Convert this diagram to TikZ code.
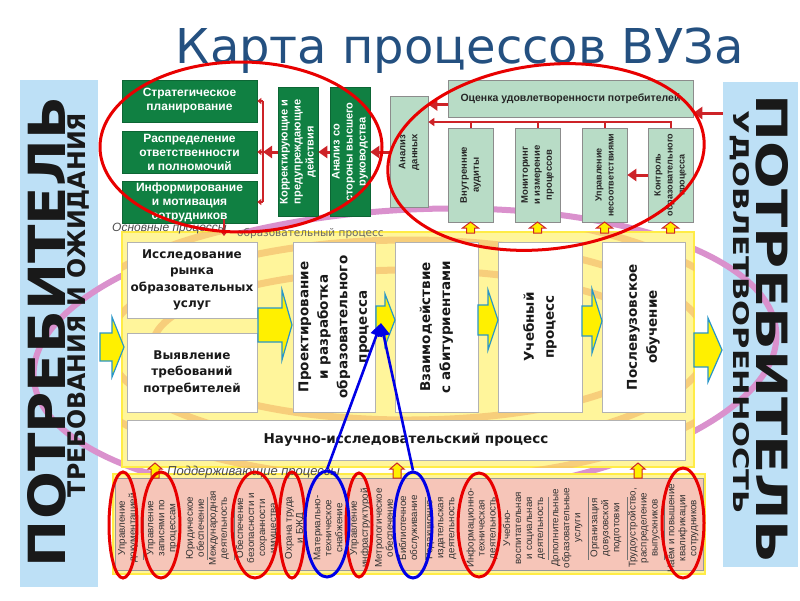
\documentclass[tikz,border=0pt]{standalone}
\usepackage{graphicx}
\usepackage{fontspec}
\setmainfont{Liberation Sans}[BoldFont={Liberation Sans Bold},ItalicFont={Liberation Sans Italic}]
\newfontfamily\dvs{DejaVu Sans}
\usetikzlibrary{shapes.geometric,arrows.meta}
\definecolor{barblue}{RGB}{189,224,246}
\definecolor{ttl}{RGB}{36,80,128}
\definecolor{gr}{RGB}{16,128,66}
\definecolor{lg}{RGB}{184,220,198}
\definecolor{yel1}{RGB}{255,245,155}
\definecolor{yel2}{RGB}{255,236,70}
\definecolor{yarrf}{RGB}{255,240,0}
\definecolor{arrbl}{RGB}{40,150,200}
\definecolor{salm}{RGB}{246,197,184}
\definecolor{rarr}{RGB}{205,35,40}
\definecolor{redc}{RGB}{232,0,0}
\definecolor{bluec}{RGB}{0,0,230}
\definecolor{pinkr}{RGB}{218,145,205}
\definecolor{orng}{RGB}{245,190,110}
\newcommand{\myharrow}[6]{%
  \path[yarr] (#1,#3-#4) -- (#2-#6,#3-#4) -- (#2-#6,#3-#5) -- (#2,#3) -- (#2-#6,#3+#5) -- (#2-#6,#3+#4) -- (#1,#3+#4) -- cycle;}
\newcommand{\myuparrow}[5]{%
  \path[uparr] (#1-#4,#3) -- (#1-#4,#2+6) -- (#1-#5,#2+6) -- (#1,#2) -- (#1+#5,#2+6) -- (#1+#4,#2+6) -- (#1+#4,#3) -- cycle;}
\tikzset{
  gbox/.style={rectangle, fill=gr, draw=gr!80!black, line width=0.6pt, text=white,
    font=\bfseries\fontsize{12}{14}\selectfont, align=center, inner sep=0pt},
  lgbox/.style={rectangle, fill=lg, draw=black!45, line width=0.6pt, text=black!85,
    font=\bfseries\fontsize{9.5}{12}\selectfont, align=center, inner sep=0pt},
  wbox/.style={rectangle, fill=white, draw=black!30, line width=0.5pt, text=black!90,
    align=center, inner sep=0pt},
  rell/.style={ellipse, draw=redc, line width=3pt, inner sep=0pt},
  bell/.style={ellipse, draw=bluec, line width=3pt, inner sep=0pt},
  redarr/.style={draw=rarr, line width=3pt, -{Triangle[length=9pt,width=12pt]}},
  rline/.style={draw=rarr, line width=2pt},
  rthin/.style={draw=rarr, line width=2pt, -{Triangle[length=6pt,width=8pt]}},
  rsmall/.style={draw=rarr, line width=1.5pt, -{Triangle[length=4pt,width=6pt]}},
  bluearr/.style={draw=bluec, line width=2.6pt, -{Triangle[length=13pt,width=12pt]}},
  yarr/.style={fill=yarrf, draw=arrbl, line width=1.2pt, line join=miter},
  uparr/.style={fill=yarrf, draw=rarr, line width=1pt, line join=miter},
  orarc/.style={draw=orng, line width=7pt, opacity=0.7},
  supitem/.style={rotate=90, align=center, font=\fontsize{9.8}{11}\selectfont, inner sep=0pt, text=black!80},
  sepl/.style={draw=black!55, line width=0.6pt},
  bartext/.style={inner sep=0pt, text=black!90, font=\dvs\bfseries}
}
\begin{document}
\begin{tikzpicture}[x=1pt,y=-1pt]
\useasboundingbox (0,0) rectangle (800,600);
\fill[white] (0,0) rectangle (800,600);

% consumer bars
\node[rectangle, fill=barblue, inner sep=0pt, minimum width=78pt, minimum height=507pt] (lbar) at (59,333.5) {};
\node[rectangle, fill=barblue, inner sep=0pt, minimum width=75pt, minimum height=485pt] (rbar) at (760.5,324.5) {};

% pink ring
\node[ellipse, draw=pinkr, line width=6pt, minimum width=744pt, minimum height=290pt, inner sep=0pt, rotate=3.5] (ring) at (405,355) {};

% title
\node[anchor=base, font=\dvs\fontsize{48}{50}\selectfont, text=ttl, inner sep=0pt] (title) at (460,63) {Карта процессов ВУЗа};

% main processes area
\node[rectangle, fill=yel1, draw=yel2, line width=1.5pt, minimum width=572pt, minimum height=235pt, inner sep=0pt] (main) at (408,349.5) {};
\begin{scope}
  \clip (122,232) rectangle (694,467);
  \draw[orarc] (408,345) ellipse [x radius=300, y radius=105];
  \draw[orarc] (408,345) ellipse [x radius=255, y radius=75];
  \draw[orarc] (408,345) ellipse [x radius=350, y radius=135];
\end{scope}

% support processes area
\node[rectangle, fill=yel1, draw=yel2, line width=1.5pt, minimum width=592pt, minimum height=100pt, inner sep=0pt] (supf) at (409,524) {};
\node[rectangle, fill=salm, draw=black!40, line width=0.6pt, minimum width=588pt, minimum height=92pt, inner sep=0pt] (sup) at (409,524) {};

% green management boxes
\node[gbox, minimum width=135pt, minimum height=42pt] (gb1) at (189.5,101) {Стратегическое\\планирование};
\node[gbox, minimum width=135pt, minimum height=42pt] (gb2) at (189.5,152) {Распределение\\ответственности\\и полномочий};
\node[gbox, minimum width=135pt, minimum height=42pt] (gb3) at (189.5,202) {Информирование\\и мотивация\\сотрудников};
\node[gbox, rotate=90, minimum width=129pt, minimum height=40pt, font=\bfseries\fontsize{11}{13}\selectfont] (gk) at (298,152) {Корректирующие и\\предупреждающие\\действия};
\node[gbox, rotate=90, minimum width=129pt, minimum height=40pt, font=\bfseries\fontsize{11}{13}\selectfont] (ga) at (350,152) {Анализ со\\стороны высшего\\руководства};

% measurement boxes
\node[lgbox, rotate=90, minimum width=111pt, minimum height=38pt] (ad) at (409,152) {Анализ\\данных};
\node[lgbox, minimum width=245pt, minimum height=37pt, font=\bfseries\fontsize{10.5}{12}\selectfont] (oc) at (570.5,98.5) {Оценка удовлетворенности потребителей};
\node[lgbox, rotate=90, minimum width=94pt, minimum height=45pt] (ia) at (470.5,175) {Внутренние\\аудиты};
\node[lgbox, rotate=90, minimum width=94pt, minimum height=45pt] (mi) at (537.5,175) {Мониторинг\\и измерение\\процессов};
\node[lgbox, rotate=90, minimum width=94pt, minimum height=45pt, font=\bfseries\fontsize{9}{12}\selectfont] (un) at (604.5,175) {Управление\\несоответствиями};
\node[lgbox, rotate=90, minimum width=94pt, minimum height=45pt, font=\bfseries\fontsize{9}{12}\selectfont] (ko) at (670.5,175) {Контроль\\образовательного\\процесса};

% red connectors (top)
\coordinate (br1) at (263,101);
\coordinate (br2) at (263,152);
\coordinate (br3) at (263,202);
\draw[rline] (br1) -- (br3);
\draw[rsmall] (br1) -- (gb1.east);
\draw[rsmall] (br2) -- (gb2.east);
\draw[rsmall] (br3) -- (gb3.east);
\draw[redarr] (gk.north) -- (br2);
\draw[redarr] (ga.north) -- (gk.south);
\draw[redarr] (ad.north) -- (ga.south);
\draw[redarr] ([yshift=-6pt]oc.west) -- ([yshift=-6pt]oc.west -| ad.south);
\draw[redarr] (rbar.west |- 0,113) -- (oc.east |- 0,113);
\draw[rthin] (ko.east) |- (ad.south |- 0,122);
\draw[rline] (ia.east) -- ++(0,-6);
\draw[rline] (mi.east) -- ++(0,-6);
\draw[rline] (un.east) -- ++(0,-6);
\draw[redarr] (ko.north) -- (un.south);
\draw[rsmall] (224,219) -- (224,236);

% small up arrows
\myuparrow{470.5}{222}{233}{4}{8}
\myuparrow{537.5}{222}{233}{4}{8}
\myuparrow{604.5}{222}{233}{4}{8}
\myuparrow{670.5}{222}{233}{4}{8}
\myuparrow{155}{463}{478}{4}{7}
\myuparrow{397}{463}{478}{4}{7}
\myuparrow{638}{463}{478}{4}{7}

% main process boxes
\node[wbox, font=\dvs\bfseries\fontsize{12}{16.5}\selectfont, minimum width=130pt, minimum height=76pt] (ir) at (192,280) {Исследование\\рынка\\образовательных\\услуг};
\node[wbox, font=\dvs\bfseries\fontsize{12}{16.5}\selectfont, minimum width=130pt, minimum height=79pt] (vt) at (192,372.5) {Выявление\\требований\\потребителей};
\node[wbox, rotate=90, font=\dvs\bfseries\fontsize{13.5}{19.5}\selectfont, minimum width=170pt, minimum height=82pt] (pr) at (334,327) {Проектирование\\и разработка\\образовательного\\процесса};
\node[wbox, rotate=90, font=\dvs\bfseries\fontsize{13.5}{20}\selectfont, minimum width=170pt, minimum height=83pt] (vz) at (436.5,327) {Взаимодействие\\с абитуриентами};
\node[wbox, rotate=90, font=\dvs\bfseries\fontsize{13.5}{20}\selectfont, minimum width=170pt, minimum height=84pt] (up) at (540,327) {Учебный\\процесс};
\node[wbox, rotate=90, font=\dvs\bfseries\fontsize{13.5}{20}\selectfont, minimum width=170pt, minimum height=83pt] (po) at (643.5,327) {Послевузовское\\обучение};
\node[wbox, font=\dvs\bfseries\fontsize{13.5}{16}\selectfont, minimum width=558pt, minimum height=40pt] (ni) at (406,440) {Научно-исследовательский процесс};

% yellow block arrows
\myharrow{100}{124}{347}{14}{30}{12}
\myharrow{258}{292}{325}{17}{35}{10}
\myharrow{376}{395}{320}{14}{26}{10}
\myharrow{478}{498}{320}{15}{30}{10}
\myharrow{582}{602}{321}{15}{32}{10}
\myharrow{694}{722}{350}{17}{32}{14}

% labels
\node[anchor=base west, font=\itshape\fontsize{12}{12}\selectfont, text=black!70, inner sep=0pt] (lbl1) at (112,231) {Основные процессы};
\node[anchor=base west, font=\dvs\fontsize{10.5}{11}\selectfont, text=black!60, inner sep=0pt] (lbl2) at (237,236) {образовательный процесс};
\node[anchor=base west, font=\itshape\fontsize{13}{13}\selectfont, text=black!70, inner sep=0pt] (lbl3) at (167,475) {Поддерживающие процессы};

% support items
\node[supitem] (s1) at (128,528) {Управление\\документацией};
\node[supitem] (s2) at (162,528) {Управление\\записями по\\процессам};
\node[supitem] (s3) at (195,528) {Юридическое\\обеспечение};
\node[supitem] (s4) at (219,528) {Международная\\деятельность};
\node[supitem] (s5) at (257,528) {Обеспечение\\безопасности и\\сохранности\\имущества};
\node[supitem] (s6) at (295,528) {Охрана труда\\и БЖД};
\node[supitem] (s7) at (328,528) {Материально-\\техническое\\снабжение};
\node[supitem] (s8) at (360,528) {Управление\\инфраструктурой};
\node[supitem] (s9) at (384,528) {Метрологическое\\обеспечение};
\node[supitem] (s10) at (409,528) {Библиотечное\\обслуживание};
\node[supitem] (s11) at (441,528) {Редакционно-\\издательская\\деятельность};
\node[supitem] (s12) at (482,528) {Информационно-\\техническая\\деятельность};
\node[supitem] (s13) at (524,528) {Учебно-\\воспитательная\\и социальная\\деятельность};
\node[supitem] (s14) at (567,528) {Дополнительные\\образовательные\\услуги};
\node[supitem] (s15) at (606,528) {Организация\\довузовской\\подготовки};
\node[supitem] (s16) at (644,528) {Трудоустройство,\\распределение\\выпускников};
\node[supitem] (s17) at (683,528) {Наём и повышение\\квалификации\\сотрудников};
\foreach \xx in {143,207,234,425,548,588,627,664}
  \draw[sepl] (\xx,497) -- (\xx,560);

% consumer texts
\node[bartext, rotate=90] (t1) at (47,332) {\resizebox{470pt}{38pt}{ПОТРЕБИТЕЛЬ}};
\node[bartext, rotate=90] (t2) at (78,305) {\resizebox{384pt}{18pt}{ТРЕБОВАНИЯ И ОЖИДАНИЯ}};
\node[bartext, rotate=-90] (t3) at (772,329) {\resizebox{468pt}{32pt}{ПОТРЕБИТЕЛЬ}};
\node[bartext, rotate=-90] (t4) at (740,312) {\resizebox{403pt}{16pt}{УДОВЛЕТВОРЕННОСТЬ}};

% red highlight ellipses
\node[rell, minimum width=282pt, minimum height=170pt] (re8) at (241,147) {};
\node[rell, minimum width=318pt, minimum height=184pt, rotate=7] (re9) at (546,157) {};
\node[rell, minimum width=28pt, minimum height=106pt] (re1) at (123,525) {};
\node[rell, minimum width=38pt, minimum height=106pt] (re2) at (161,525) {};
\node[rell, minimum width=46pt, minimum height=106pt] (re3) at (255,525) {};
\node[rell, minimum width=26pt, minimum height=106pt] (re4) at (292,525) {};
\node[rell, minimum width=26pt, minimum height=104pt] (re5) at (359,525) {};
\node[rell, minimum width=42pt, minimum height=104pt] (re6) at (479,525) {};
\node[rell, minimum width=42pt, minimum height=110pt] (re7) at (683,523) {};

% blue highlight ellipses and arrows
\node[bell, minimum width=44pt, minimum height=106pt] (be1) at (327,524) {};
\node[bell, minimum width=38pt, minimum height=106pt] (be2) at (413,525) {};
\coordinate (bt) at (381,323);
\draw[bluearr] (be1.north) -- (bt);
\draw[bluearr] (be2.north) -- (bt);
\end{tikzpicture}
\end{document}
